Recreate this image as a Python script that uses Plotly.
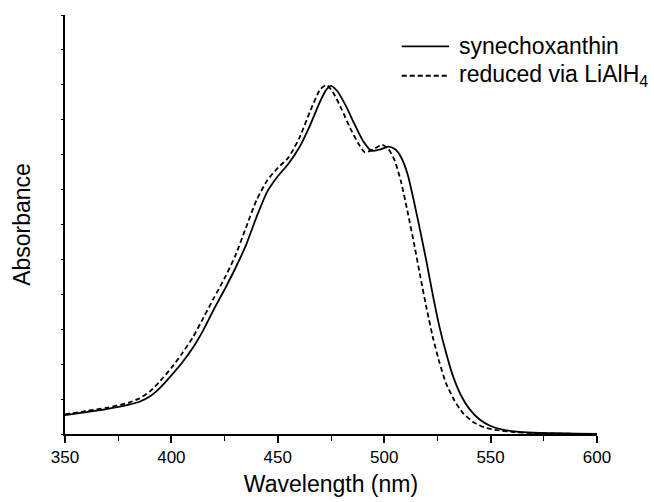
import plotly.graph_objects as go

# Wavelength (nm) and absorbance (arbitrary units, 0..1 of axis height)
wl_syn = [350, 360, 370, 380, 385, 390, 395, 400, 405, 410, 415, 420, 425, 430,
          435, 440, 445, 450, 455, 460, 465, 470, 473, 475, 478, 482, 486, 490,
          494, 498, 502, 505, 508, 511, 514, 517, 520, 523, 526, 529, 532, 536,
          540, 545, 550, 555, 560, 570, 580, 590, 600]
abs_syn = [0.045, 0.052, 0.060, 0.070, 0.077, 0.090, 0.112, 0.140, 0.170, 0.205,
           0.248, 0.298, 0.345, 0.395, 0.450, 0.518, 0.578, 0.615, 0.645, 0.683,
           0.735, 0.795, 0.823, 0.831, 0.818, 0.783, 0.740, 0.700, 0.676, 0.679,
           0.686, 0.680, 0.660, 0.620, 0.555, 0.483, 0.408, 0.328, 0.255, 0.195,
           0.143, 0.093, 0.060, 0.034, 0.019, 0.011, 0.007, 0.003, 0.002, 0.001,
           0.000]

wl_red = [350, 360, 370, 380, 385, 390, 395, 400, 405, 410, 415, 420, 425, 430,
          435, 440, 445, 450, 455, 460, 465, 470, 473, 476, 480, 484, 488, 491,
          495, 499, 502, 505, 508, 511, 514, 517, 520, 523, 526, 529, 533, 537,
          542, 547, 552, 560, 570, 580, 600]
abs_red = [0.047, 0.055, 0.063, 0.075, 0.085, 0.102, 0.128, 0.158, 0.192, 0.230,
           0.277, 0.325, 0.372, 0.425, 0.492, 0.558, 0.605, 0.635, 0.660, 0.705,
           0.768, 0.823, 0.833, 0.815, 0.775, 0.730, 0.692, 0.672, 0.680, 0.690,
           0.680, 0.652, 0.600, 0.530, 0.455, 0.375, 0.298, 0.228, 0.170, 0.122,
           0.080, 0.050, 0.028, 0.016, 0.010, 0.005, 0.002, 0.001, 0.000]

x_ticks = [350, 400, 450, 500, 550, 600]
series_names = ["synechoxanthin", "reduced via LiAlH<sub>4</sub>"]

FONT = "Liberation Sans, Arial, Helvetica, sans-serif"
DASH = "5px,3px"

fig = go.Figure()
fig.add_trace(go.Scatter(x=wl_syn, y=abs_syn, mode="lines", name=series_names[0],
                         line=dict(color="black", width=1.8, shape="spline", smoothing=0.6)))
fig.add_trace(go.Scatter(x=wl_red, y=abs_red, mode="lines", name=series_names[1],
                         line=dict(color="black", width=1.8, dash=DASH,
                                   shape="spline", smoothing=0.6)))

# Legend drawn as key lines + text in paper coordinates
legend_rows = [(0.925, "solid"), (0.855, DASH)]
for (yy, dash), name in zip(legend_rows, series_names):
    fig.add_shape(type="line", xref="paper", yref="paper",
                  x0=0.633, x1=0.722, y0=yy, y1=yy,
                  line=dict(color="black", width=1.8, dash=dash))
    fig.add_annotation(xref="paper", yref="paper", x=0.737, y=yy,
                       xanchor="left", yanchor="middle", showarrow=False,
                       text=name, font=dict(size=23, family=FONT, color="black"))

fig.update_layout(
    width=654, height=502,
    margin=dict(l=65, r=57, t=15, b=68),
    paper_bgcolor="white", plot_bgcolor="white",
    font=dict(family=FONT, color="black"),
    showlegend=False,
    xaxis=dict(range=[350, 600], tickvals=x_ticks, ticktext=[str(v) for v in x_ticks],
               automargin=False,
               showgrid=False, zeroline=False,
               showline=True, linecolor="black", linewidth=1.5,
               ticks="outside", ticklen=7, tickwidth=1.5, tickcolor="black",
               tickfont=dict(size=17, family=FONT),
               minor=dict(dtick=25, ticks="outside", ticklen=5, tickwidth=1.2,
                          tickcolor="black", showgrid=False),
               title=dict(text="Wavelength (nm)", font=dict(size=23, family=FONT),
                          standoff=10)),
    yaxis=dict(range=[0, 1], dtick=1/12, tick0=0, showticklabels=False,
               automargin=False,
               showgrid=False, zeroline=False,
               showline=True, linecolor="black", linewidth=1.5,
               ticks="outside", ticklen=2, tickwidth=1, tickcolor="black",
               title=dict(text="Absorbance", font=dict(size=23, family=FONT),
                          standoff=24)),
)

fig.write_html("out.html", config={"displayModeBar": False},
               post_script="document.body.style.margin='0';")
